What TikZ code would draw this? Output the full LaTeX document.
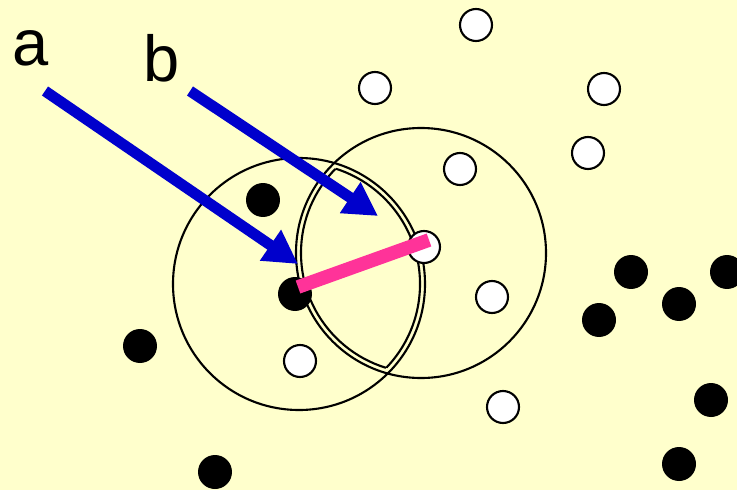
\documentclass[tikz,border=0pt]{standalone}
\usepackage{fontspec}
\setsansfont{Liberation Sans}
\usetikzlibrary{arrows.meta}
\definecolor{paleyellow}{HTML}{FFFFCC}
\definecolor{arrowblue}{HTML}{0000CC}
\definecolor{hotpink}{HTML}{FF3399}
\newcommand{\knnlabelfont}{\sffamily\fontsize{37}{40}\selectfont}
\tikzset{
    knn/chart/.style={x=0.02cm, y=-0.02cm},
    knn/white/.style={circle, draw=black, line width=1.2pt, fill=white, minimum size=0.64cm, inner sep=0pt},
    knn/black/.style={circle, fill=black, minimum size=0.68cm, inner sep=0pt},
    knn/ring/.style={draw=black, line width=1.2pt},
    knn/arrow/.style={-{Triangle[width=20pt,length=19pt]}, line width=6.2pt, draw=arrowblue},
    knn/link/.style={line width=7.8pt, draw=hotpink},
    knn/label/.style={font=\knnlabelfont, anchor=base, inner sep=0pt}
}

\begin{document}
\begin{tikzpicture}[knn/chart]
    \fill[paleyellow] (0,0) rectangle (737,490);
    \useasboundingbox (0,0) rectangle (737,490);
    \coordinate (cl) at (299,284);
    \coordinate (cr) at (421,253);
    \draw[knn/ring] (cl) circle[radius=126];
    \draw[knn/ring] (cr) circle[radius=125];
    \begin{scope}
        \clip (cl) circle[radius=121];
        \draw[knn/ring] (cr) circle[radius=120];
    \end{scope}
    \begin{scope}
        \clip (cr) circle[radius=120];
        \draw[knn/ring] (cl) circle[radius=121];
    \end{scope}
    \foreach \name/\pos in {w1/{476,25},w2/{375,88},w3/{604,89},w4/{588,153},w5/{460,169},w6/{424,247},w7/{492,297},w8/{300,361},w9/{503,407}}
        \node[knn/white] (\name) at (\pos) {};
    \foreach \name/\pos in {k1/{263,200},k2/{295,294},k3/{140,346},k4/{215,472},k5/{631,272},k6/{727,272},k7/{679,304},k8/{599,320},k9/{711,400},k10/{679,464}}
        \node[knn/black] (\name) at (\pos) {};
    \draw[knn/link] ([shift={(3,-7)}]k2.center) -- ([shift={(5,-7)}]w6.center);
    \node[knn/label] (la) at (31,65) {a};
    \node[knn/label] (lb) at (162,81) {b};
    \coordinate (atail) at (45,91);
    \coordinate (ahead) at (298,264);
    \coordinate (btail) at (190,91);
    \coordinate (bhead) at (378,216);
    \draw[knn/arrow] (atail) -- (ahead);
    \draw[knn/arrow] (btail) -- (bhead);
\end{tikzpicture}
\end{document}
